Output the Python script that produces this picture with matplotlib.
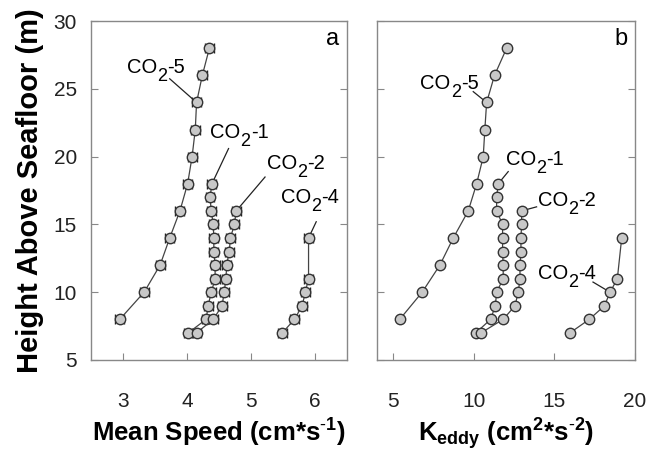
import matplotlib
matplotlib.use("Agg")
import matplotlib.pyplot as plt
import numpy as np

plt.rcParams['font.family'] = ['Liberation Sans', 'DejaVu Sans']
plt.rcParams['mathtext.fontset'] = 'custom'
plt.rcParams['mathtext.rm'] = 'Liberation Sans'
plt.rcParams['mathtext.it'] = 'Liberation Sans'
plt.rcParams['mathtext.bf'] = 'Liberation Sans:bold'

# heights above seafloor (m)
h5 = [8, 10, 12, 14, 16, 18, 20, 22, 24, 26, 28]
h1 = [7, 8, 9, 10, 11, 12, 13, 14, 15, 16, 17, 18]
h2 = [7, 8, 9, 10, 11, 12, 13, 14, 15, 16]
h4 = [7, 8, 9, 10, 11, 14]

# mean speed (cm/s)
spd5 = [2.95, 3.33, 3.58, 3.73, 3.89, 4.01, 4.08, 4.13, 4.15, 4.24, 4.35]
spd1 = [4.02, 4.30, 4.33, 4.38, 4.44, 4.44, 4.42, 4.42, 4.41, 4.38, 4.36, 4.39]
spd2 = [4.15, 4.41, 4.55, 4.58, 4.61, 4.62, 4.66, 4.68, 4.74, 4.77]
spd4 = [5.49, 5.68, 5.80, 5.85, 5.90, 5.90]
spd_err = 0.07

# eddy kinetic energy (cm2/s2)
ke5 = [5.41, 6.80, 7.90, 8.73, 9.66, 10.18, 10.59, 10.69, 10.80, 11.29, 12.04]
ke1 = [10.13, 11.05, 11.34, 11.42, 11.83, 11.83, 11.79, 11.79, 11.79, 11.42, 11.42, 11.52]
ke2 = [10.45, 11.83, 12.56, 12.76, 12.87, 12.87, 12.93, 12.93, 12.97, 12.97]
ke4 = [15.97, 17.17, 18.11, 18.46, 18.91, 19.18]

runs = ['5', '1', '2', '4']

fig = plt.figure(figsize=(6.48, 4.53), dpi=100)
ax1 = fig.add_axes([0.1404, 0.2053, 0.395, 0.748])
ax2 = fig.add_axes([0.5818, 0.2053, 0.398, 0.748])

lc = '#444444'
mfc = '#c8c8c8'
mk = dict(marker='o', ms=7.5, mfc=mfc, mec='#333333', mew=1.0,
          color=lc, lw=0.9)

for x, h in [(spd5, h5), (spd1, h1), (spd2, h2), (spd4, h4)]:
    ax1.errorbar(x, h, xerr=spd_err, capsize=3.5, ecolor='#222222',
                 elinewidth=1.0, capthick=1.5, **mk)
for x, h in [(ke5, h5), (ke1, h1), (ke2, h2), (ke4, h4)]:
    ax2.plot(x, h, **mk)


def co2_label(ax, x, y, run, fs=14.5):
    # "CO" + big dropped "2" + "-N", centred on (x, y)
    sub = 0.9 * fs
    w_co = 1.5 * fs
    w_2 = 0.556 * sub
    w_tail = 0.889 * fs
    left = -(w_co + w_2 + w_tail) / 2
    kw = dict(xy=(x, y), textcoords='offset points', va='center', ha='left')
    ax.annotate('CO', xytext=(left, 0), fontsize=fs, **kw)
    ax.annotate('2', xytext=(left + w_co, -0.45 * fs), fontsize=sub, **kw)
    ax.annotate('-' + run, xytext=(left + w_co + w_2, 0), fontsize=fs, **kw)


# series labels with leader lines: (text x, text y, point x, point y, line start x, line start y)
lab_a = [(3.52, 26.6, spd5[8], h5[8], 3.73, 25.75),
         (4.82, 21.8, spd1[-1], h1[-1], 4.65, 20.6),
         (5.71, 19.5, spd2[-1], h2[-1], 5.22, 18.5),
         (5.92, 17.0, spd4[-1], h4[-1], 6.02, 15.2)]
lab_b = [(8.5, 25.4, ke5[8], h5[8], 9.97, 24.8),
         (13.8, 19.8, ke1[-1], h1[-1], 12.14, 18.9),
         (15.8, 16.8, ke2[-1], h2[-1], 13.9, 16.3),
         (15.8, 11.4, ke4[3], h4[3], 17.4, 10.75)]

for ax, labs in [(ax1, lab_a), (ax2, lab_b)]:
    for run, (tx, ty, px, py, sx, sy) in zip(runs, labs):
        co2_label(ax, tx, ty, run)
        ax.plot([sx, px], [sy, py], color='#222222', lw=0.9, zorder=1)

ax1.set_xlim(2.5, 6.5)
ax1.set_xticks([3, 4, 5, 6])
ax2.set_xlim(4, 20)
ax2.set_xticks([5, 10, 15, 20])
for ax in (ax1, ax2):
    ax.set_ylim(5, 30)
    ax.set_yticks([5, 10, 15, 20, 25, 30])
    for s in ax.spines.values():
        s.set_color('#888888')
        s.set_linewidth(1.0)
    ax.tick_params(direction='in', length=5, color='#888888', labelsize=15,
                   right=True, labelcolor='#222222')
    ax.tick_params(axis='x', pad=23)
    ax.tick_params(axis='y', pad=10)
ax2.set_yticklabels([])

ax1.text(0.97, 0.93, 'a', transform=ax1.transAxes, ha='right', fontsize=17)
ax2.text(0.97, 0.93, 'b', transform=ax2.transAxes, ha='right', fontsize=17)

ax1.set_ylabel('Height Above Seafloor (m)', fontsize=21, fontweight='bold', labelpad=7)
ax1.set_xlabel('Mean Speed (cm*s$^{\\mathbf{\\text{-}1}}$)', fontsize=18.5,
               fontweight='bold', labelpad=4)
ax2.set_xlabel('K$_{\\mathbf{eddy}}$ (cm$^{\\mathbf{2}}$*s$^{\\mathbf{\\text{-}2}}$)',
               fontsize=18.5, fontweight='bold', labelpad=4)

fig.savefig('out.png', dpi=100)
